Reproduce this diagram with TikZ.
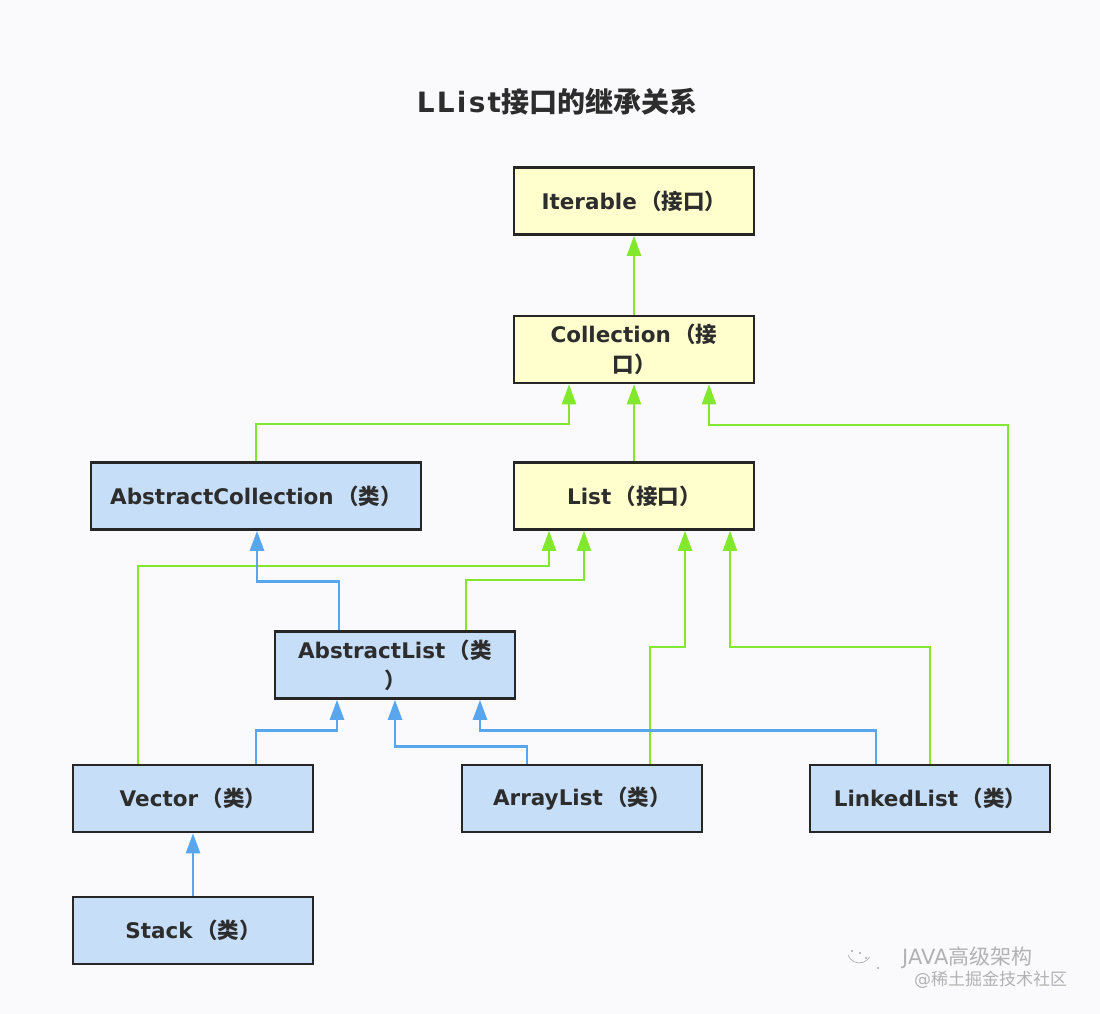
\documentclass[tikz,border=0pt]{standalone}
\usepackage{fontspec}
\setmainfont{DejaVu Sans}
\newfontfamily\cjk{Noto Sans CJK SC}
\newfontfamily\titlefont[LetterSpace=8]{DejaVu Sans}
\usetikzlibrary{arrows.meta}
\definecolor{bg}{RGB}{250,250,252}
\definecolor{gline}{RGB}{130,232,45}
\definecolor{bline}{RGB}{88,166,238}
\definecolor{yfill}{RGB}{255,255,206}
\definecolor{bfill}{RGB}{198,222,247}
\definecolor{bord}{RGB}{38,38,38}
\definecolor{txt}{RGB}{45,45,45}
\tikzset{
  box/.style={draw=bord, line width=2.6pt, minimum width=240pt, minimum height=67pt,
    font=\fontsize{21.5}{30}\selectfont\bfseries, text=txt, align=center, inner sep=0pt},
  ibox/.style={box, fill=yfill},
  cbox/.style={box, fill=bfill},
  gar/.style={draw=gline, line width=2pt, -{Triangle[length=20pt,width=14pt,fill=gline]}},
  bar/.style={draw=bline, line width=2.6pt, -{Triangle[length=20pt,width=14pt,fill=bline]}},
  wmark/.style={text=gray!60, inner sep=0pt},
}
\newcommand{\zh}[1]{{\cjk\bfseries #1}}
\begin{document}
\begin{tikzpicture}[x=1pt,y=-1pt]
\fill[bg] (0,0) rectangle (1100,1014);
\useasboundingbox (0,0) rectangle (1100,1014);

\node[text=txt, font=\fontsize{28}{32}\selectfont\bfseries] (title) at (557,102)
  {{\titlefont\bfseries LList}\zh{接口的继承关系}};

\node[ibox] (iter) at (634,201) {Iterable\,\zh{（接口）}};
\node[ibox] (coll) at (634,349.5) {Collection\,\zh{（接}\\\zh{口）}};
\node[cbox, minimum width=330pt] (abscoll) at (256,496) {AbstractCollection\,\zh{（类）}};
\node[ibox] (list) at (634,496) {List\,\zh{（接口）}};
\node[cbox] (abslist) at (395,665) {AbstractList\,\zh{（类}\\\zh{）}};
\node[cbox] (vector) at (193,798.5) {Vector\,\zh{（类）}};
\node[cbox] (arraylist) at (582,798.5) {ArrayList\,\zh{（类）}};
\node[cbox] (linked) at (930,798.5) {LinkedList\,\zh{（类）}};
\node[cbox] (stack) at (193,930.5) {Stack\,\zh{（类）}};

% green (interface) connectors
\draw[gar] (coll.north) -- (iter.south);
\draw[gar] (list.north) -- (coll.south);
\draw[gar] (abscoll.north) -- ++(0,-37) -| ([xshift=-65pt]coll.south);
\draw[gar] ([xshift=78pt]linked.north) -- ++(0,-339) -| ([xshift=75pt]coll.south);
\draw[gar] ([xshift=-55pt]vector.north) -- ++(0,-198) -| ([xshift=-85pt]list.south);
\draw[gar] ([xshift=71pt]abslist.north) -- ++(0,-50) -| ([xshift=-50pt]list.south);
\draw[gar] ([xshift=68pt]arraylist.north) -- ++(0,-117) -| ([xshift=51pt]list.south);
\draw[gar] (linked.north) -- ++(0,-117) -| ([xshift=96pt]list.south);

% blue (class) connectors
\draw[bar] ([xshift=-56pt]abslist.north) -- ++(0,-49) -| ([xshift=1pt]abscoll.south);
\draw[bar] ([xshift=63pt]vector.north) -- ++(0,-33) -| ([xshift=-58pt]abslist.south);
\draw[bar] ([xshift=-55pt]arraylist.north) -- ++(0,-17) -| (abslist.south);
\draw[bar] ([xshift=-54pt]linked.north) -- ++(0,-33) -| ([xshift=85pt]abslist.south);
\draw[bar] (stack.north) -- (vector.south);

% watermark
\draw[gray!70, line width=0.6pt] (848,955) arc[start angle=200, end angle=330, radius=12pt];
\fill[gray!70] (852,951) circle (1.2pt) (860,953) circle (1.2pt) (866,958) circle (1.2pt) (878,968) circle (1.2pt);
\node[wmark, anchor=south west, font=\fontsize{21}{24}\selectfont] (wm1) at (902,969) {JAVA{\cjk 高级架构}};
\node[wmark, anchor=north west, font=\fontsize{17}{20}\selectfont] (wm2) at (914,971) {@{\cjk 稀土掘金技术社区}};
\end{tikzpicture}
\end{document}
